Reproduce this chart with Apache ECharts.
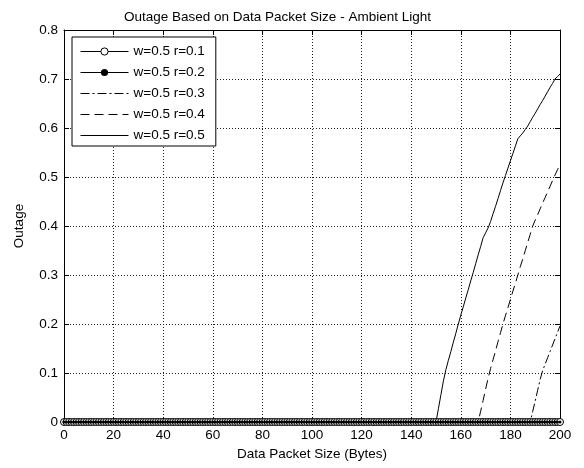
<!DOCTYPE html>
<html>
<head>
<meta charset="utf-8">
<script src="https://cdn.jsdelivr.net/npm/echarts@6/dist/echarts.min.js"></script>
<style>
  html, body { margin: 0; padding: 0; background: #fff; }
  #chart { width: 584px; height: 468px; }
</style>
</head>
<body>
<div id="chart"></div>
<script>
// packet sizes, one sample per byte
const packetSize = Array.from({ length: 201 }, (_, i) => i);

// r=0.1 and r=0.2 stay at 0 over the whole range
const outageR01 = packetSize.map(() => 0);
const outageR02 = packetSize.map(() => 0);

// the other curves are 0 until their start byte, then rise
const r03Start = 188;
const r03Rise = [0, 0.022, 0.043, 0.065, 0.087, 0.105, 0.118, 0.131, 0.144, 0.157, 0.17, 0.183, 0.196];

const r04Start = 167;
const r04Rise = [0, 0.022, 0.044, 0.067, 0.089, 0.109, 0.127, 0.145, 0.164, 0.182, 0.2, 0.217,
  0.233, 0.25, 0.267, 0.283, 0.3, 0.317, 0.333, 0.35, 0.367, 0.383, 0.4, 0.412, 0.423, 0.435,
  0.447, 0.458, 0.47, 0.481, 0.493, 0.504, 0.515, 0.525];

const r05Start = 150;
const r05Rise = [0, 0.028, 0.056, 0.084, 0.107, 0.126, 0.144, 0.163, 0.181, 0.2, 0.218, 0.235,
  0.253, 0.27, 0.288, 0.305, 0.323, 0.341, 0.358, 0.376, 0.386, 0.396, 0.409, 0.425, 0.44, 0.456,
  0.472, 0.488, 0.503, 0.518, 0.533, 0.548, 0.563, 0.578, 0.584, 0.59, 0.597, 0.604, 0.613, 0.622,
  0.63, 0.639, 0.648, 0.656, 0.665, 0.674, 0.683, 0.691, 0.7, 0.705, 0.71];

const seriesNames = ['w=0.5 r=0.1', 'w=0.5 r=0.2', 'w=0.5 r=0.3', 'w=0.5 r=0.4', 'w=0.5 r=0.5'];

function pairs(values) {
  return packetSize.map((x, i) => [x, values[i]]);
}
function rising(start, rise) {
  return packetSize.map(x => [x, x < start ? 0 : rise[x - start]]);
}

const FONT = "'Liberation Sans', Arial, sans-serif";
const txt = { color: '#000', fontSize: 13.5, fontFamily: FONT };
const gridLine = { show: true, lineStyle: { color: '#222', width: 1, type: [1, 2] } };

const chart = echarts.init(document.getElementById('chart'));
chart.setOption({
  animation: false,
  backgroundColor: '#fff',
  title: {
    text: 'Outage Based on Data Packet Size - Ambient Light',
    left: 119,
    top: 5,
    textStyle: Object.assign({ fontWeight: 'normal' }, txt)
  },
  grid: { left: 64, right: 24, top: 30, bottom: 46 },
  legend: {
    orient: 'vertical',
    left: 72,
    top: 37,
    padding: [7.5, 11, 3.5, 8],
    itemWidth: 48,
    itemHeight: 9,
    itemGap: 7,
    borderColor: '#000',
    borderWidth: 1,
    backgroundColor: '#fff',
    textStyle: txt,
    lineStyle: { width: 1, color: '#000' },
    itemStyle: { borderWidth: 1 },
    data: [
      { name: seriesNames[0] },
      { name: seriesNames[1] },
      { name: seriesNames[2], itemStyle: { opacity: 0 } },
      { name: seriesNames[3], itemStyle: { opacity: 0 } },
      { name: seriesNames[4], itemStyle: { opacity: 0 } }
    ]
  },
  xAxis: [
    {
      type: 'value', min: 0, max: 200, interval: 20,
      name: 'Data Packet Size (Bytes)', nameLocation: 'middle', nameGap: 24,
      nameTextStyle: txt,
      axisLine: { onZero: false, lineStyle: { color: '#000' } },
      axisTick: { inside: true, length: 5, lineStyle: { color: '#000' } },
      axisLabel: Object.assign({ margin: 6 }, txt),
      splitLine: gridLine
    },
    {
      type: 'value', min: 0, max: 200, interval: 20, position: 'top',
      axisLine: { onZero: false, lineStyle: { color: '#000' } },
      axisTick: { inside: true, length: 5, lineStyle: { color: '#000' } },
      axisLabel: { show: false },
      splitLine: { show: false }
    }
  ],
  yAxis: [
    {
      type: 'value', min: 0, max: 0.8, interval: 0.1,
      name: 'Outage', nameLocation: 'middle', nameGap: 38,
      nameTextStyle: txt,
      axisLine: { show: true, onZero: false, lineStyle: { color: '#000' } },
      axisTick: { show: true, inside: true, length: 5, lineStyle: { color: '#000' } },
      axisLabel: Object.assign({ margin: 6 }, txt),
      splitLine: gridLine
    },
    {
      type: 'value', min: 0, max: 0.8, interval: 0.1, position: 'right',
      axisLine: { show: true, onZero: false, lineStyle: { color: '#000' } },
      axisTick: { show: true, inside: true, length: 5, lineStyle: { color: '#000' } },
      axisLabel: { show: false },
      splitLine: { show: false }
    }
  ],
  series: [
    {
      name: seriesNames[0], type: 'line', data: pairs(outageR01),
      symbol: 'circle', symbolSize: 7,
      itemStyle: { color: '#fff', borderColor: '#000', borderWidth: 1 },
      lineStyle: { color: '#000', width: 1 }
    },
    {
      name: seriesNames[1], type: 'line', data: pairs(outageR02),
      symbol: 'circle', symbolSize: 3,
      itemStyle: { color: '#000' },
      lineStyle: { color: '#000', width: 1 }
    },
    {
      name: seriesNames[2], type: 'line', data: rising(r03Start, r03Rise),
      symbol: 'none',
      itemStyle: { color: '#000' },
      lineStyle: { color: '#000', width: 1, type: [9, 3, 2, 3] }
    },
    {
      name: seriesNames[3], type: 'line', data: rising(r04Start, r04Rise),
      symbol: 'none',
      itemStyle: { color: '#000' },
      lineStyle: { color: '#000', width: 1, type: [9, 5] }
    },
    {
      name: seriesNames[4], type: 'line', data: rising(r05Start, r05Rise),
      symbol: 'none',
      itemStyle: { color: '#000' },
      lineStyle: { color: '#000', width: 1 }
    }
  ]
});
</script>
</body>
</html>
